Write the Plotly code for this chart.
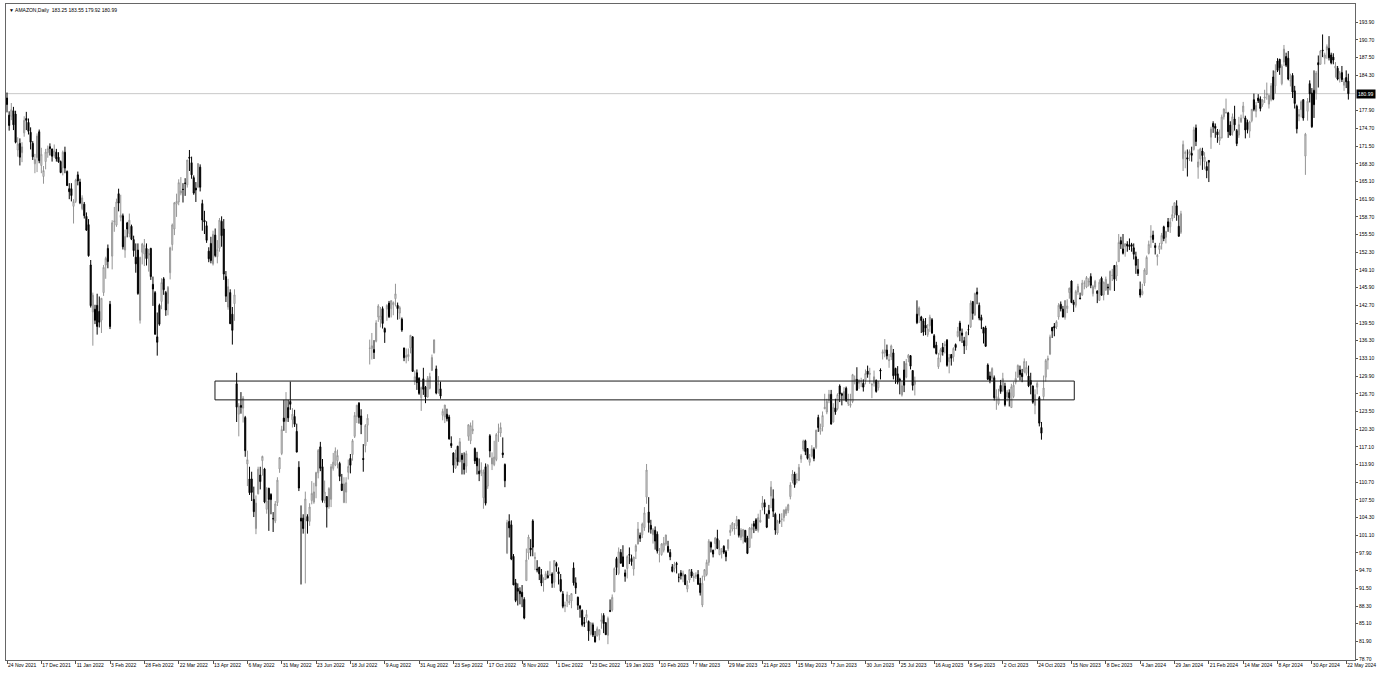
import pandas as pd
import plotly.graph_objects as go

# ---------------- data (AMAZON, Daily) ----------------
# trading calendar (broker sessions), first and last session shown
first_day = "2021-11-24"
last_day = "2024-05-23"
closed_days = [
    "2021-11-25", "2021-12-24", "2022-01-17", "2022-02-21", "2022-04-15", "2022-05-30",
    "2022-06-20", "2022-07-04", "2022-09-05", "2022-11-24", "2022-12-26", "2023-01-02",
    "2023-01-16", "2023-02-20", "2023-04-07", "2023-05-29", "2023-06-19", "2023-07-04",
    "2023-09-04", "2023-11-23", "2023-12-25", "2023-12-26", "2024-01-01", "2024-01-15",
    "2024-02-19", "2024-03-29",
]

opens = [
    180.2, 177.1, 176.9, 177.9,
    177.3, 170.8, 172.0, 170.3, 173.9, 176.5, 175.8, 174.0, 172.0, 168.3, 169.4, 174.1, 168.0, 166.0, 168.7, 170.3, 171.4, 171.0, 169.8, 170.4, 169.5, 168.7,
    167.6, 170.4, 166.9, 163.8, 163.8, 160.6, 161.5, 166.3, 165.0, 160.2, 161.0, 158.8, 157.3, 150.0, 141.5, 142.0, 142.7, 141.6, 140.0, 145.0,
    150.0, 153.0, 142.9, 151.6, 157.8, 157.2, 162.9, 158.6, 158.9, 152.7, 157.6, 155.7, 157.0, 154.6, 151.4, 152.7, 140.0, 152.3, 152.0,
    153.0, 151.8, 153.0, 146.5, 145.0, 137.0, 142.7, 143.4, 147.5, 145.0, 143.0, 148.6, 153.7, 156.5, 161.0, 161.4, 163.0, 163.7, 164.8, 164.5, 169.5, 168.5, 165.8,
    163.9, 164.1, 167.7, 161.1, 158.1, 157.1, 152.5, 153.9, 150.2, 155.4, 151.5, 153.0, 157.9, 156.5, 147.9, 142.4, 145.0, 141.1, 143.0, 128.5,
    123.0, 124.6, 124.1, 122.4, 114.0, 111.3, 111.3, 107.6, 102.3, 108.6, 112.0, 114.6, 113.1, 105.8, 109.6, 108.5, 104.1, 103.7, 107.0, 113.1, 115.9,
    122.3, 121.7, 124.2, 125.3, 122.0, 122.6, 119.9, 113.4, 104.2, 104.2, 103.9, 104.5, 103.6, 107.4, 107.1, 110.0, 112.4, 117.1, 113.5, 107.4, 108.1,
    106.3, 107.6, 113.2, 113.8, 114.6, 114.1, 110.4, 107.0, 108.9, 112.5, 115.0, 115.7, 119.0, 122.6, 125.0, 122.7, 115.0, 117.3, 121.0, 134.9,
    134.9, 134.7, 136.2, 140.6, 140.1, 142.1, 138.5, 142.0, 143.1, 142.1, 142.8, 143.9, 142.7, 141.3, 140.2, 135.0, 133.3, 133.4, 135.0, 137.0, 128.9, 130.5, 129.5,
    126.0, 129.4, 127.9, 126.1, 127.7, 130.9, 134.1, 131.2, 127.4, 127.6, 122.8, 122.5, 123.0, 122.5, 117.7, 116.0, 113.3, 117.2, 114.4, 115.6, 114.1,
    113.6, 119.0, 118.2, 120.0, 116.8, 115.1, 112.7, 112.5, 107.9, 113.5, 110.0, 119.1, 114.0, 113.9, 114.8, 119.7, 119.6, 116.0, 113.9, 97.9, 103.6,
    103.0, 97.3, 92.5, 91.5, 91.0, 90.8, 89.5, 92.9, 97.9, 98.8, 103.7, 96.9, 95.0, 95.3, 94.0, 93.0, 93.2, 93.8, 93.9, 94.1, 92.6,
    96.0, 94.5, 93.1, 90.5, 88.3, 89.2, 88.9, 89.2, 95.2, 92.5, 89.9, 88.3, 87.5, 85.3, 86.2, 85.5, 83.3, 84.9, 82.8, 82.9, 83.1,
    85.5, 86.6, 85.3, 83.0, 87.5, 87.6, 90.9, 96.9, 94.2, 98.0, 97.2, 94.3, 95.1, 97.6, 96.9, 95.0, 98.2, 99.5, 101.1, 101.2,
    102.5, 108.0, 105.3, 102.9, 101.2, 102.0, 101.3, 97.6, 97.6, 98.4, 99.5, 99.1, 98.0, 95.4, 95.1, 96.0, 93.5, 94.3, 93.7,
    93.9, 91.4, 93.0, 94.5, 93.5, 93.6, 94.0, 92.4, 88.5, 93.6, 94.0, 96.2, 99.8, 98.4, 99.6, 100.5, 97.6, 98.1, 99.1, 98.1, 98.7, 101.6, 102.2,
    102.3, 102.8, 103.9, 100.7, 100.9, 102.0, 100.6, 98.9, 102.1, 103.2, 103.9, 102.0, 103.5, 106.1, 107.0, 104.9, 105.6, 108.2, 107.7,
    104.9, 101.5, 103.7, 104.0, 104.3, 105.0, 105.6, 108.1, 111.0, 112.2, 111.1, 111.0, 114.9, 116.7, 118.2, 116.8, 114.3, 115.4, 116.6, 117.0, 122.4, 119.9,
    120.7, 124.0, 123.4, 125.5, 126.6, 121.6, 124.1, 124.0, 128.1, 126.7, 125.7, 127.7, 124.9, 124.6, 125.3, 129.1, 129.3, 128.6, 128.9, 128.6, 129.1,
    130.8, 130.2, 128.3, 128.6, 129.1, 127.8, 131.0, 134.0, 134.1, 134.6, 132.7, 133.4, 134.1, 131.3, 130.3, 129.3, 126.5, 131.0, 129.7, 133.2,
    133.6, 130.9, 128.4, 141.1, 140.9, 140.6, 139.9, 139.1, 137.4, 139.0, 140.1, 137.2, 135.5, 131.6, 133.7, 135.1, 135.5, 136.4, 132.5, 133.8, 133.4, 135.6, 137.1,
    139.5, 137.7, 136.3, 135.4, 138.3, 138.8, 143.4, 140.9, 145.1, 142.7, 140.5, 138.7, 138.6, 131.9, 129.9, 129.5, 129.6, 125.8, 124.9, 128.2,
    127.3, 128.1, 126.1, 126.9, 124.2, 126.2, 128.8, 129.7, 131.0, 130.4, 130.7, 130.4, 129.9, 129.1, 128.1, 124.6, 127.9, 126.0, 120.6, 126.2, 129.7, 132.8,
    133.9, 138.7, 138.9, 138.8, 140.6, 142.9, 142.0, 140.5, 142.1, 145.0, 147.1, 143.3, 142.7, 145.1, 144.0, 144.6, 146.7, 146.0, 146.9, 147.9, 144.8,
    146.0, 145.3, 143.6, 147.6, 144.6, 145.5, 146.0, 145.5, 148.1, 149.9, 148.0, 150.6, 154.4, 152.9, 153.3, 153.8, 153.6, 153.7, 153.1,
    151.5, 149.2, 145.6, 144.7, 146.7, 148.3, 152.1, 155.0, 155.4, 153.5, 151.5, 152.8, 153.8, 156.9, 155.0, 157.8, 156.9, 158.4, 159.3, 160.7, 157.0,
    155.9, 169.2, 170.2, 169.4, 170.0, 170.2, 170.9, 174.8, 167.7, 169.2, 170.6, 168.7, 167.8, 168.9, 173.1, 175.6, 175.1, 174.1, 172.5, 173.0,
    176.8, 177.5, 177.5, 175.3, 174.0, 176.4, 174.3, 173.5, 175.9, 177.7, 176.6, 175.8, 174.2, 176.1, 179.9, 177.8, 180.2, 180.0, 179.0, 180.2,
    180.8, 179.1, 179.9, 184.0, 182.4, 186.9, 187.2, 182.8, 186.7, 187.7, 187.4, 183.3, 184.3, 181.5, 178.7, 176.9, 178.1, 179.9, 169.7, 177.8, 182.8, 181.1,
    181.6, 181.0, 186.6, 186.3, 188.9, 187.4, 188.9, 189.2, 188.0, 187.6, 185.6, 185.6, 183.8, 184.8, 182.5, 183.9, 183.25,
]

highs = [
    181.2, 177.8, 179.3, 178.6,
    177.9, 173.1, 172.9, 172.2, 176.9, 177.7, 176.5, 174.9, 172.4, 170.1, 173.8, 174.5, 171.2, 167.9, 171.0, 171.6, 172.0, 171.0, 171.8, 171.0, 170.4, 168.9,
    170.7, 171.4, 167.1, 164.8, 164.8, 161.9, 165.6, 166.9, 165.6, 162.6, 161.4, 159.5, 158.3, 150.9, 145.0, 142.8, 144.8, 144.3, 144.0, 150.0,
    151.5, 153.7, 143.5, 158.1, 160.5, 162.0, 163.8, 162.7, 159.3, 156.4, 157.8, 159.3, 157.3, 155.3, 153.9, 153.9, 151.5, 154.0, 154.7,
    153.9, 152.9, 153.1, 147.9, 145.3, 141.4, 143.0, 147.6, 147.8, 145.3, 146.2, 153.3, 157.5, 161.4, 162.9, 165.5, 165.9, 164.8, 165.7, 169.0, 170.8, 169.6, 166.2,
    165.0, 168.4, 168.2, 161.8, 159.8, 157.9, 153.2, 155.1, 156.2, 156.6, 154.5, 158.5, 158.8, 158.3, 148.9, 147.5, 145.6, 142.4, 145.6, 130.5,
    125.0, 127.0, 126.3, 122.7, 116.4, 113.5, 112.6, 109.9, 108.3, 113.5, 113.5, 115.5, 113.3, 109.8, 109.7, 108.7, 105.3, 107.3, 111.6, 115.2, 120.9,
    125.6, 127.0, 125.6, 128.9, 124.1, 123.8, 121.3, 114.5, 106.5, 104.9, 109.0, 104.9, 106.9, 110.9, 110.6, 112.6, 116.7, 118.0, 114.9, 111.0, 108.2,
    109.8, 114.0, 116.0, 117.0, 116.6, 114.4, 112.2, 111.6, 111.6, 114.8, 115.8, 118.5, 123.4, 124.7, 125.2, 123.9, 117.6, 121.2, 123.0, 136.5,
    137.7, 136.4, 140.0, 142.9, 142.4, 142.5, 138.7, 142.9, 143.5, 143.6, 143.4, 146.6, 143.2, 142.6, 140.5, 135.0, 134.9, 134.9, 137.3, 137.1, 130.9, 131.1, 129.7,
    128.0, 131.4, 128.1, 129.9, 130.5, 133.8, 136.5, 131.8, 129.9, 128.9, 124.0, 124.7, 124.0, 122.9, 119.0, 116.1, 116.6, 117.3, 118.7, 116.0, 116.1,
    116.4, 121.2, 121.5, 121.9, 117.0, 116.2, 115.0, 114.3, 113.0, 114.1, 114.0, 119.4, 116.1, 118.2, 119.6, 121.3, 121.5, 118.8, 114.1, 103.9, 104.9,
    103.8, 97.7, 93.2, 92.4, 91.7, 92.1, 89.9, 98.7, 101.2, 100.4, 104.0, 98.0, 96.6, 95.4, 95.0, 93.5, 94.6, 94.7, 96.4, 94.4, 96.6,
    96.3, 95.3, 94.1, 91.0, 89.1, 90.9, 90.3, 90.6, 96.2, 93.5, 90.0, 88.5, 87.7, 86.3, 87.6, 85.7, 85.4, 85.3, 83.8, 84.6, 84.1,
    87.0, 87.0, 85.4, 86.4, 89.5, 90.4, 95.3, 97.2, 98.9, 98.6, 99.3, 94.9, 97.5, 98.9, 97.6, 97.2, 99.5, 103.5, 101.6, 103.4,
    106.2, 114.0, 108.0, 103.9, 102.4, 102.7, 101.8, 98.8, 99.7, 100.8, 101.2, 100.1, 98.6, 95.9, 96.3, 96.3, 94.2, 94.8, 94.7,
    94.1, 92.9, 95.0, 95.0, 94.3, 94.4, 94.8, 93.4, 93.8, 95.0, 96.7, 100.4, 100.0, 98.5, 100.8, 102.1, 100.2, 98.8, 99.3, 98.4, 100.4, 103.0, 103.5,
    103.3, 104.6, 103.9, 102.4, 102.2, 102.0, 101.0, 102.6, 103.2, 103.7, 104.2, 105.0, 105.7, 108.2, 107.6, 105.0, 106.6, 110.9, 109.4,
    105.2, 103.9, 105.0, 105.1, 105.8, 106.3, 106.8, 110.7, 112.9, 112.6, 112.3, 114.0, 115.8, 118.4, 118.4, 116.8, 115.8, 117.4, 117.0, 120.2, 122.9, 121.3,
    123.5, 126.7, 125.8, 127.4, 127.4, 125.0, 125.8, 126.8, 128.4, 126.9, 127.9, 128.0, 126.7, 126.7, 130.3, 130.0, 131.5, 129.3, 129.6, 129.3, 131.1,
    131.8, 131.4, 128.7, 130.9, 129.3, 129.0, 131.3, 134.7, 136.6, 135.6, 133.9, 135.6, 134.8, 131.4, 131.7, 129.6, 129.1, 132.6, 133.0, 133.9,
    133.7, 130.9, 129.8, 143.6, 142.5, 140.8, 140.3, 140.4, 139.3, 141.0, 140.4, 137.5, 136.1, 134.1, 135.0, 135.9, 136.2, 136.6, 133.9, 133.9, 135.1, 135.8, 138.8,
    139.9, 138.5, 137.0, 138.0, 139.2, 143.6, 143.4, 145.0, 145.9, 143.2, 141.0, 138.8, 139.0, 132.2, 130.7, 131.5, 130.0, 127.5, 127.6, 129.2,
    130.5, 128.7, 127.4, 127.5, 128.5, 128.9, 130.7, 132.0, 131.8, 131.2, 133.1, 132.6, 131.8, 130.5, 128.2, 127.5, 128.9, 126.3, 121.6, 130.0, 133.0, 133.6,
    137.4, 138.8, 139.5, 140.0, 143.1, 143.4, 142.6, 143.6, 143.8, 145.9, 147.2, 143.7, 145.5, 146.6, 145.0, 147.3, 147.2, 148.0, 147.6, 148.5, 146.4,
    147.3, 145.4, 147.4, 147.9, 147.0, 147.9, 146.6, 149.0, 149.3, 150.0, 150.6, 155.6, 155.1, 155.6, 153.9, 154.3, 154.8, 154.0, 153.9,
    152.4, 151.1, 147.0, 146.6, 149.4, 151.7, 154.4, 157.2, 156.2, 154.0, 152.0, 154.0, 155.8, 157.1, 156.2, 158.5, 158.5, 160.7, 161.3, 161.7, 159.0,
    159.8, 172.5, 170.7, 170.9, 170.9, 171.4, 175.0, 175.4, 170.9, 171.2, 171.2, 170.4, 168.7, 169.0, 175.0, 176.0, 175.6, 174.6, 174.5, 177.2,
    178.3, 180.1, 177.7, 176.0, 177.4, 178.8, 174.6, 176.8, 177.2, 179.5, 177.0, 176.3, 176.1, 178.2, 181.0, 179.5, 180.9, 180.5, 180.0, 181.7,
    183.0, 180.9, 182.9, 185.2, 186.3, 187.4, 187.3, 186.3, 189.8, 188.4, 188.7, 184.6, 184.7, 182.4, 179.0, 178.2, 179.8, 180.0, 173.9, 180.2, 183.4, 182.0,
    185.2, 185.1, 187.9, 188.9, 191.7, 188.4, 189.9, 191.4, 188.4, 188.3, 186.7, 186.0, 185.1, 186.0, 183.8, 185.2, 184.6,
]

lows = [
    177.6, 174.3, 176.2, 174.4,
    172.0, 169.6, 168.0, 168.6, 173.2, 174.4, 173.6, 170.9, 169.0, 166.6, 166.8, 168.4, 166.6, 164.7, 167.3, 169.4, 169.8, 168.7, 169.4, 168.7, 168.5, 166.6,
    166.2, 166.6, 164.3, 161.9, 161.5, 157.5, 161.2, 164.4, 161.0, 159.9, 158.4, 156.2, 151.5, 142.3, 135.4, 139.3, 137.4, 138.7, 137.7, 144.4,
    147.5, 149.4, 138.4, 149.2, 156.0, 156.9, 159.7, 157.9, 152.8, 151.3, 155.0, 155.0, 154.5, 151.5, 148.6, 144.6, 139.4, 150.1, 149.8,
    149.9, 148.8, 147.3, 142.6, 137.4, 133.6, 139.0, 142.0, 144.6, 140.8, 140.9, 147.4, 152.6, 155.4, 158.7, 160.8, 162.6, 161.3, 162.5, 164.0, 167.0, 165.6, 162.7,
    161.4, 163.9, 163.3, 156.2, 155.6, 154.0, 150.5, 150.3, 149.9, 151.4, 150.3, 152.4, 153.3, 147.3, 143.3, 141.9, 139.3, 135.6, 139.9, 121.6,
    119.0, 123.1, 121.5, 115.3, 110.0, 108.4, 107.3, 104.4, 101.3, 108.5, 109.4, 111.9, 106.9, 105.0, 101.9, 104.9, 101.7, 103.3, 106.4, 112.4, 115.6,
    120.0, 119.6, 121.6, 123.8, 120.6, 120.7, 116.1, 109.1, 92.2, 101.4, 92.4, 101.4, 102.8, 106.7, 106.8, 107.8, 111.4, 112.7, 107.0, 106.9, 102.5,
    105.9, 106.2, 112.8, 113.6, 113.2, 110.9, 109.1, 107.0, 106.9, 111.2, 112.3, 114.6, 118.7, 121.4, 121.3, 119.4, 112.6, 116.1, 118.0, 132.0,
    132.9, 133.0, 136.0, 139.7, 138.7, 138.5, 135.9, 139.9, 140.4, 140.5, 140.9, 142.5, 140.1, 140.2, 137.9, 132.6, 132.2, 132.6, 134.0, 130.7, 128.3, 127.4, 126.5,
    123.6, 126.5, 125.0, 126.0, 127.5, 130.9, 134.0, 126.6, 126.7, 125.8, 121.9, 121.4, 121.7, 118.4, 116.9, 112.4, 113.1, 113.7, 114.3, 112.1, 112.1,
    112.4, 118.2, 117.6, 119.4, 114.0, 112.1, 110.9, 111.8, 105.9, 106.5, 109.5, 115.2, 112.9, 113.6, 114.5, 118.0, 118.9, 115.1, 109.8, 97.7, 100.7,
    96.6, 92.1, 89.0, 88.4, 88.6, 88.1, 85.9, 92.9, 96.7, 97.3, 97.3, 94.8, 94.4, 93.0, 91.9, 90.9, 93.0, 93.3, 93.8, 91.6, 91.6,
    94.5, 92.2, 90.8, 87.9, 87.2, 88.1, 88.5, 87.9, 92.0, 90.5, 87.6, 86.2, 84.6, 84.5, 85.3, 82.0, 83.0, 82.7, 81.7, 82.8, 82.1,
    84.2, 83.4, 83.1, 81.4, 87.2, 87.3, 90.8, 93.9, 93.9, 96.0, 95.4, 92.7, 93.3, 95.9, 95.6, 93.8, 96.8, 99.5, 99.9, 100.6,
    101.9, 106.8, 101.6, 101.4, 99.6, 98.5, 97.8, 96.2, 97.4, 98.0, 99.2, 97.9, 96.6, 94.4, 94.4, 94.2, 92.6, 93.1, 92.6,
    92.1, 90.8, 92.5, 93.4, 92.7, 93.2, 92.1, 90.2, 88.1, 92.9, 93.7, 95.6, 98.0, 97.1, 98.4, 98.6, 97.5, 96.9, 97.7, 96.4, 98.3, 101.0, 101.8,
    101.2, 102.2, 100.7, 100.2, 99.6, 99.8, 97.7, 98.8, 100.5, 101.5, 101.9, 101.6, 103.4, 105.6, 104.9, 102.4, 104.1, 106.0, 104.4,
    101.2, 101.2, 103.2, 102.6, 103.6, 104.6, 105.1, 107.6, 110.5, 109.7, 110.5, 110.9, 114.2, 116.3, 115.6, 114.8, 113.7, 115.2, 114.5, 116.7, 119.8, 119.3,
    119.9, 123.9, 123.0, 125.0, 121.1, 121.5, 122.9, 123.7, 125.2, 124.6, 125.4, 125.2, 124.5, 124.2, 125.0, 128.4, 127.3, 127.6, 127.9, 127.1, 128.4,
    129.6, 128.5, 125.9, 128.0, 126.9, 127.3, 129.3, 132.9, 133.3, 132.9, 131.4, 132.8, 129.3, 128.5, 128.4, 126.6, 126.2, 127.0, 129.5, 132.4,
    131.1, 127.3, 126.4, 139.3, 139.5, 137.7, 137.2, 137.3, 137.0, 137.9, 137.6, 134.9, 133.8, 131.2, 132.4, 133.6, 134.0, 131.6, 130.4, 131.8, 132.5, 134.5, 136.9,
    136.2, 135.9, 133.9, 134.6, 137.3, 138.6, 140.1, 140.9, 142.9, 140.0, 138.4, 135.8, 135.2, 129.2, 128.6, 128.9, 125.5, 123.8, 124.6, 126.7,
    127.0, 124.4, 125.3, 124.4, 124.2, 125.9, 128.4, 129.6, 129.1, 128.8, 130.4, 130.0, 127.9, 126.6, 124.9, 123.0, 126.6, 120.8, 118.4, 125.6, 128.9, 131.1,
    133.7, 136.8, 137.1, 138.4, 140.1, 141.6, 140.5, 140.1, 141.3, 143.9, 143.1, 141.5, 142.3, 144.6, 143.8, 144.4, 145.6, 145.8, 146.1, 145.8, 144.3,
    145.6, 143.1, 143.5, 144.5, 143.6, 145.3, 144.6, 145.4, 147.1, 145.3, 147.1, 150.6, 152.9, 151.9, 151.5, 152.4, 152.7, 152.4, 151.0,
    148.4, 148.0, 144.1, 144.5, 146.2, 148.2, 151.9, 153.1, 154.0, 151.9, 149.9, 152.0, 152.8, 154.3, 153.9, 156.0, 155.8, 157.9, 158.5, 158.0, 155.1,
    155.6, 167.0, 167.5, 166.0, 168.8, 168.7, 170.7, 171.5, 165.6, 168.0, 167.2, 167.3, 165.7, 165.0, 171.0, 173.9, 173.0, 172.1, 171.7, 172.9,
    176.3, 177.4, 173.0, 173.4, 173.4, 174.3, 171.5, 173.0, 175.7, 176.5, 172.9, 173.8, 173.0, 175.8, 177.8, 176.7, 179.3, 177.8, 178.6, 179.3,
    179.9, 178.3, 179.6, 179.8, 181.0, 184.9, 184.4, 182.5, 186.0, 185.8, 183.4, 182.3, 180.2, 178.3, 173.8, 176.0, 176.7, 176.1, 166.3, 176.1, 179.4, 174.8,
    176.6, 179.9, 182.1, 186.3, 187.6, 186.3, 187.3, 187.0, 186.3, 186.3, 183.9, 183.4, 183.0, 183.1, 181.5, 182.0, 179.92,
]

closes = [
    179.02, 175.23, 178.08, 175.35,
    172.19, 171.87, 169.49, 171.37, 176.16, 176.16, 174.17, 172.21, 169.57, 169.09, 173.32, 168.87, 170.02, 167.08, 170.42, 171.04, 171.07, 169.67, 170.66, 169.20, 168.64, 166.72,
    170.40, 167.52, 164.36, 163.25, 162.55, 161.49, 165.36, 165.21, 161.21, 162.14, 158.92, 156.30, 151.67, 142.64, 144.54, 139.99, 138.87, 139.64, 143.98, 149.57,
    151.19, 150.61, 138.85, 157.64, 157.94, 161.41, 161.19, 159.00, 153.29, 155.17, 156.51, 158.10, 154.65, 152.60, 150.20, 144.83, 151.36, 153.79, 153.56,
    151.14, 152.05, 147.90, 145.64, 137.47, 136.01, 139.28, 146.82, 145.52, 141.85, 145.96, 153.10, 157.24, 161.25, 161.49, 164.89, 163.41, 163.65, 164.77, 168.99, 169.32, 166.30, 163.00,
    163.56, 168.35, 164.06, 158.13, 157.78, 154.46, 151.12, 150.79, 155.54, 151.71, 152.79, 158.12, 155.30, 148.35, 144.35, 146.07, 139.39, 138.17, 144.60, 124.28,
    124.50, 124.25, 125.93, 116.41, 114.77, 108.79, 108.86, 105.37, 106.93, 113.06, 110.81, 115.37, 107.11, 107.32, 107.59, 107.56, 104.10, 106.78, 111.08, 115.15, 120.21,
    121.68, 125.51, 122.35, 124.79, 123.00, 121.18, 116.15, 109.65, 103.67, 102.31, 107.67, 103.66, 106.22, 108.68, 108.95, 112.44, 116.46, 113.22, 107.40, 108.92, 106.21,
    109.56, 113.50, 114.33, 116.33, 115.54, 111.75, 109.22, 110.40, 110.63, 113.55, 113.76, 118.21, 122.77, 124.63, 122.42, 121.14, 114.81, 120.97, 122.28, 134.95,
    135.39, 134.16, 139.52, 142.57, 140.80, 139.41, 137.83, 142.69, 140.64, 143.55, 143.18, 144.78, 142.10, 142.30, 138.23, 133.22, 133.62, 133.80, 137.28, 130.75, 129.79, 128.73, 126.77,
    127.82, 127.51, 126.11, 129.48, 129.82, 133.27, 136.45, 126.82, 128.55, 126.28, 123.53, 124.66, 122.19, 118.54, 117.31, 113.78, 115.15, 114.41, 118.01, 114.80, 113.00,
    115.88, 121.09, 120.95, 120.30, 114.56, 113.67, 112.21, 112.90, 112.53, 106.90, 113.79, 116.36, 115.07, 115.25, 119.32, 119.82, 120.60, 115.66, 110.96, 103.41, 102.44,
    96.79, 92.12, 89.30, 90.98, 90.53, 89.98, 86.14, 96.63, 100.79, 98.49, 98.94, 97.12, 94.85, 94.14, 92.46, 93.20, 94.13, 93.41, 93.95, 92.42, 96.54,
    95.50, 94.13, 91.01, 88.25, 88.46, 90.35, 89.09, 90.55, 92.49, 91.58, 88.45, 87.86, 84.92, 85.19, 86.77, 83.79, 85.25, 83.04, 81.82, 84.18, 84.00,
    85.82, 85.14, 83.12, 86.08, 87.36, 89.87, 95.09, 95.27, 98.12, 96.05, 95.46, 93.68, 97.25, 97.52, 96.32, 97.18, 99.22, 102.24, 100.55, 103.13,
    105.15, 112.91, 103.39, 102.18, 102.11, 100.05, 98.24, 97.61, 99.54, 99.70, 101.16, 98.15, 97.20, 94.58, 95.79, 95.82, 93.50, 93.76, 94.23,
    92.17, 92.13, 94.90, 93.75, 93.55, 93.92, 92.25, 90.73, 92.43, 94.88, 96.20, 100.04, 98.95, 97.71, 100.61, 98.70, 98.71, 98.13, 98.04, 97.24, 100.25, 102.00, 103.29,
    102.41, 103.95, 101.10, 102.06, 102.17, 99.92, 97.83, 102.40, 102.51, 102.74, 102.30, 104.30, 103.81, 106.96, 106.21, 102.57, 104.98, 109.82, 105.45,
    102.05, 103.63, 103.65, 104.00, 105.66, 105.83, 106.62, 110.19, 112.18, 110.26, 111.20, 113.40, 115.50, 118.15, 116.25, 115.01, 114.99, 116.75, 115.00, 120.11, 120.58, 120.58,
    122.77, 124.25, 125.30, 126.61, 121.23, 124.25, 123.43, 126.57, 126.66, 126.42, 127.11, 125.49, 125.78, 124.83, 130.15, 129.33, 127.33, 129.18, 129.04, 127.90, 130.36,
    130.22, 130.38, 128.36, 129.78, 127.13, 128.78, 130.80, 134.30, 134.68, 133.56, 132.83, 135.36, 129.96, 130.00, 128.80, 129.13, 128.15, 128.25, 132.21, 133.68,
    131.69, 128.21, 128.91, 139.57, 142.22, 139.94, 137.85, 138.56, 138.41, 140.57, 137.67, 135.07, 133.98, 133.22, 134.68, 134.25, 135.52, 131.84, 133.26, 133.14, 134.91, 135.07, 138.01,
    138.12, 137.27, 135.36, 137.85, 138.23, 143.10, 141.23, 144.85, 144.72, 140.39, 139.98, 137.63, 135.29, 129.33, 129.12, 131.27, 125.98, 126.20, 125.98, 127.12,
    129.46, 124.72, 127.00, 125.96, 127.96, 128.26, 129.48, 131.83, 130.15, 129.79, 132.55, 131.47, 128.13, 128.40, 125.17, 126.56, 128.56, 121.39, 119.57, 127.74, 132.71, 133.09,
    137.00, 138.07, 138.60, 139.74, 142.71, 142.08, 140.60, 143.56, 142.59, 145.80, 143.20, 142.83, 145.18, 146.13, 143.90, 146.71, 146.74, 147.73, 147.03, 146.32, 146.09,
    147.03, 144.84, 146.88, 144.52, 146.88, 147.42, 145.89, 148.84, 148.12, 147.42, 149.97, 154.07, 153.79, 152.12, 153.84, 153.42, 153.34, 153.38, 151.94,
    149.93, 148.47, 144.57, 145.24, 149.10, 151.37, 153.73, 155.18, 154.62, 153.16, 151.71, 153.50, 155.34, 154.78, 156.02, 156.87, 157.75, 159.12, 161.26, 159.00, 155.20,
    159.28, 171.81, 170.31, 169.15, 170.53, 169.84, 174.45, 172.34, 168.64, 170.98, 169.80, 169.51, 167.08, 168.59, 174.58, 174.99, 174.73, 173.54, 173.16, 176.76,
    178.22, 177.58, 174.12, 173.51, 176.82, 175.35, 171.96, 175.39, 176.56, 178.75, 174.42, 174.48, 175.90, 178.15, 178.15, 178.87, 179.71, 178.30, 179.83, 180.38,
    180.97, 180.69, 182.41, 180.00, 185.07, 185.19, 185.67, 185.95, 189.05, 186.13, 183.62, 183.32, 181.28, 179.22, 174.63, 177.23, 179.54, 176.59, 173.67, 179.62, 180.96, 175.00,
    179.00, 184.72, 186.21, 188.70, 188.76, 188.00, 189.50, 187.48, 186.57, 187.07, 185.99, 183.63, 184.70, 183.54, 183.15, 183.13, 180.99,
]

symbol_title = "AMAZON,Daily"
last_ohlc = ["183.25", "183.55", "179.92", "180.99"]
zone_low, zone_high = 125.6, 129.0
y_ticks = [78.70, 81.90, 85.10, 88.30, 91.50, 94.70, 97.90, 101.10, 104.30, 107.50, 110.70,
           113.90, 117.10, 120.30, 123.50, 126.70, 129.90, 133.10, 136.30, 139.50, 142.70,
           145.90, 149.10, 152.30, 155.50, 158.70, 161.90, 165.10, 168.30, 171.50, 174.70,
           177.90, 184.30, 187.50, 190.70, 193.90]

# ---------------- build ----------------
closed_set = set(closed_days)
sessions = [d for d in pd.bdate_range(first_day, last_day)
            if d.strftime("%Y-%m-%d") not in closed_set]
assert len(sessions) == len(closes) == len(opens) == len(highs) == len(lows), (
    len(sessions), len(opens), len(highs), len(lows), len(closes))

idx = list(range(len(sessions)))
tick_idx = list(range(0, len(sessions), 16))
tick_txt = [f"{sessions[i].day} {sessions[i].strftime('%b %Y')}" for i in tick_idx]
session_str = [s.strftime("%Y-%m-%d") for s in sessions]

FONT = "Liberation Sans, Arial, sans-serif"
fig = go.Figure()
fig.add_trace(go.Candlestick(
    x=idx, open=opens, high=highs, low=lows, close=closes,
    increasing=dict(line=dict(color="#959595", width=1), fillcolor="#ffffff"),
    decreasing=dict(line=dict(color="#000000", width=1), fillcolor="#000000"),
    whiskerwidth=0, showlegend=False, hoverinfo="skip",
))

last_close = closes[-1]
fig.add_shape(type="line", xref="paper", yref="y", x0=0, x1=1, y0=last_close, y1=last_close,
              line=dict(color="#c8c8c8", width=1), layer="below")
i0 = session_str.index("2022-04-14")
i1 = session_str.index("2023-11-16")
fig.add_shape(type="rect", xref="x", yref="y", x0=i0 - 0.1, x1=i1 + 0.3,
              y0=zone_low, y1=zone_high, line=dict(color="#1a1a1a", width=1),
              fillcolor="rgba(0,0,0,0)")

fig.add_annotation(xref="paper", yref="y", x=1, y=last_close, xanchor="left", yanchor="middle",
                   text=f"{last_close:.2f}", showarrow=False, bgcolor="#000000",
                   font=dict(family=FONT, size=5, color="#ffffff"), borderpad=1, xshift=1)
fig.add_annotation(xref="paper", yref="paper", x=0, y=1, xanchor="left", yanchor="top",
                   text="▼ " + symbol_title + "  " + " ".join(last_ohlc), showarrow=False,
                   font=dict(family=FONT, size=5, color="#000000"), xshift=1, yshift=-1)

fig.update_layout(
    width=1381, height=675,
    margin=dict(l=6, r=26, t=4, b=15, pad=0, autoexpand=False),
    paper_bgcolor="#ffffff", plot_bgcolor="#ffffff",
    font=dict(family=FONT, size=5, color="#000000"),
    showlegend=False,
    xaxis=dict(
        range=[-0.47, 628.1], rangeslider=dict(visible=False),
        tickmode="array", tickvals=tick_idx, ticktext=tick_txt,
        ticks="outside", ticklen=3, tickcolor="#555555", tickwidth=1,
        ticklabelposition="outside right", tickangle=0,
        tickfont=dict(family=FONT, size=5, color="#000000"),
        showgrid=False, zeroline=False, automargin=False,
        showline=True, linecolor="#666666", linewidth=1, mirror=True,
    ),
    yaxis=dict(
        side="right", range=[78.54, 197.21],
        tickmode="array", tickvals=y_ticks, ticktext=[f"{v:.2f}" for v in y_ticks],
        ticks="outside", ticklen=2, tickcolor="#555555",
        tickfont=dict(family=FONT, size=5, color="#000000"),
        showgrid=False, zeroline=False, automargin=False,
        showline=True, linecolor="#666666", linewidth=1, mirror=True,
    ),
)

fig.write_html("out.html", config={"displayModeBar": False, "staticPlot": True},
               post_script="document.body.style.margin='0px';document.body.style.overflow='hidden';")
